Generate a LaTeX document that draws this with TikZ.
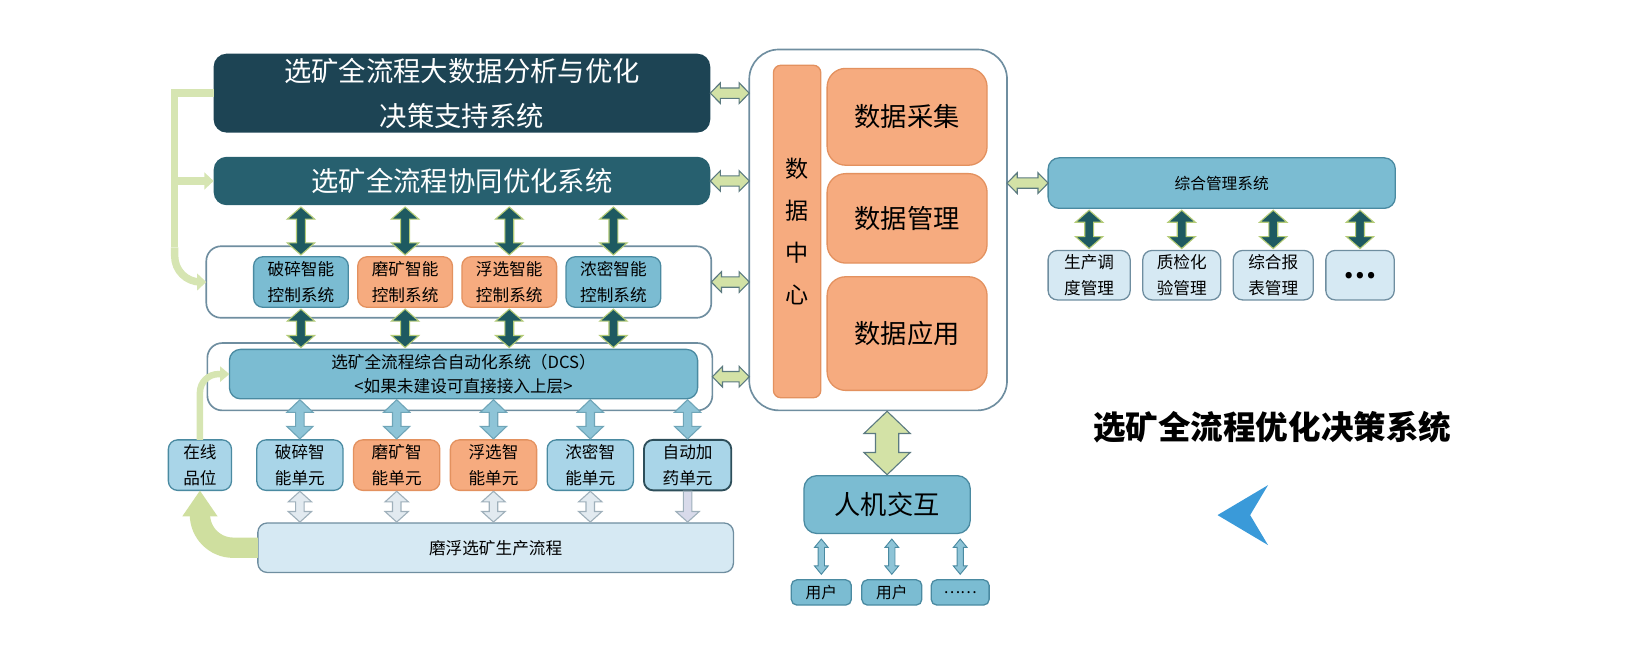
\documentclass[tikz,border=0pt]{standalone}
\usepackage{fontspec}
\setmainfont{Noto Sans CJK SC}
\usetikzlibrary{calc, arrows.meta, positioning}

\definecolor{deepC}{HTML}{1D4454}
\definecolor{tealC}{HTML}{27606F}
\definecolor{blueC}{HTML}{7BBCD2}
\definecolor{blueD}{HTML}{4A8AA1}
\definecolor{orangeC}{HTML}{F6AB7F}
\definecolor{orangeD}{HTML}{E3915F}
\definecolor{paleC}{HTML}{A9D5E8}
\definecolor{lightC}{HTML}{D6E9F3}
\definecolor{frameC}{HTML}{6F8EA0}
\definecolor{inkD}{HTML}{2D4E5A}
\definecolor{greenC}{HTML}{D3E2A6}
\definecolor{greenL}{HTML}{D6E5B2}
\definecolor{greenT}{HTML}{CFDF9F}
\definecolor{greenE}{HTML}{5B7A80}
\definecolor{arrowD}{HTML}{1E5A61}
\definecolor{arrowE}{HTML}{B5CC78}
\definecolor{skyA}{HTML}{8EC4D7}
\definecolor{skyE}{HTML}{6FA5B8}
\definecolor{greyA}{HTML}{E2EAF0}
\definecolor{greyE}{HTML}{9FB0BB}
\definecolor{lilacA}{HTML}{D8DAEA}
\definecolor{chevC}{HTML}{3A9AD9}

\newcommand{\setfs}[2]{\fontsize{#1}{#2}\selectfont}

% block arrow with two heads: style, from, to, gap, half shaft, half head, head length
\newcommand{\fatarrow}[7]{%
  \coordinate (fa1) at ($(#2)!#4!(#3)$);
  \coordinate (fa2) at ($(#3)!#4!(#2)$);
  \path[#1] (fa1) -- ($(fa1)!#7!(fa2)!#6!90:(fa2)$) -- ($(fa1)!#7!(fa2)!#5!90:(fa2)$)
    -- ($(fa2)!#7!(fa1)!#5!-90:(fa1)$) -- ($(fa2)!#7!(fa1)!#6!-90:(fa1)$) -- (fa2)
    -- ($(fa2)!#7!(fa1)!#6!90:(fa1)$) -- ($(fa2)!#7!(fa1)!#5!90:(fa1)$)
    -- ($(fa1)!#7!(fa2)!#5!-90:(fa2)$) -- ($(fa1)!#7!(fa2)!#6!-90:(fa2)$) -- cycle;}
% same, one head only
\newcommand{\fatonearrow}[7]{%
  \coordinate (fa1) at ($(#2)!#4!(#3)$);
  \coordinate (fa2) at ($(#3)!#4!(#2)$);
  \path[#1] ($(fa1)!#5!90:(fa2)$) -- ($(fa2)!#7!(fa1)!#5!-90:(fa1)$)
    -- ($(fa2)!#7!(fa1)!#6!-90:(fa1)$) -- (fa2) -- ($(fa2)!#7!(fa1)!#6!90:(fa1)$)
    -- ($(fa2)!#7!(fa1)!#5!90:(fa1)$) -- ($(fa1)!#5!-90:(fa2)$) -- cycle;}

\begin{document}
\begin{tikzpicture}[
        x=0.02cm, y=-0.02cm,
        frame/.style={draw=frameC, fill=white, line width=0.9pt, rounded corners=8pt, inner sep=0pt, outer sep=0pt},
        deep/.style={fill=#1, rounded corners=7pt, text=white, align=center, inner sep=0pt, outer sep=0pt, font=\setfs{14.8}{24.5}},
        cell/.style={draw=#1, line width=0.7pt, rounded corners=5pt, align=center, inner sep=0pt, outer sep=0pt},
        bluecell/.style={cell=blueD, fill=blueC},
        orangecell/.style={cell=orangeD, fill=orangeC},
        palecell/.style={cell=blueD, fill=paleC},
        lightcell/.style={cell=frameC, fill=lightC},
        small/.style={font=\setfs{9}{13.7}},
        darkarr/.style={fill=arrowD, draw=arrowE, line width=0.6pt},
        greenarr/.style={fill=greenC, draw=greenE, line width=0.6pt},
        skyarr/.style={fill=skyA, draw=skyE, line width=0.6pt},
        greyarr/.style={fill=greyA, draw=greyE, line width=0.6pt},
        lilacarr/.style={fill=lilacA, draw=greyE, line width=0.6pt},
        userarr/.style={fill=skyA, draw=blueD, line width=0.5pt},
        feed/.style={draw=greenL, line width=4pt}
    ]
        \useasboundingbox (0,0) rectangle (1568,622);

        % left stack
        \node[deep=deepC, minimum width=9.44cm, minimum height=1.5cm] (big) at (439,88.5) {选矿全流程大数据分析与优化\\决策支持系统};
        \node[deep=tealC, minimum width=9.44cm, minimum height=0.92cm] (sync) at (439,172) {选矿全流程协同优化系统};
        \node[frame, minimum width=9.6cm, minimum height=1.36cm] (panel) at (436,268) {};
        \node[bluecell, small, minimum width=1.8cm, minimum height=0.96cm] (ctrl1) at (286,268) {破碎智能\\控制系统};
        \node[orangecell, small, minimum width=1.8cm, minimum height=0.96cm, right=0.18cm of ctrl1] (ctrl2) {磨矿智能\\控制系统};
        \node[orangecell, small, minimum width=1.8cm, minimum height=0.96cm, right=0.18cm of ctrl2] (ctrl3) {浮选智能\\控制系统};
        \node[bluecell, small, minimum width=1.8cm, minimum height=0.96cm, right=0.18cm of ctrl3] (ctrl4) {浓密智能\\控制系统};
        \node[frame, minimum width=9.6cm, minimum height=1.28cm] (dcsf) at (437,358) {};
        \node[bluecell, rounded corners=6pt, font=\setfs{9}{12.5}, minimum width=8.9cm, minimum height=0.94cm] (dcs) at (440.5,355.5) {选矿全流程综合自动化系统（DCS）\\<如果未建设可直接接入上层>};
        \node[palecell, small, minimum width=1.2cm, minimum height=0.96cm] (online) at (190,442) {在线\\品位};
        \node[palecell, small, minimum width=1.64cm, minimum height=0.96cm] (unit1) at (285,442) {破碎智\\能单元};
        \node[orangecell, small, minimum width=1.64cm, minimum height=0.96cm, right=0.2cm of unit1] (unit2) {磨矿智\\能单元};
        \node[orangecell, small, minimum width=1.64cm, minimum height=0.96cm, right=0.2cm of unit2] (unit3) {浮选智\\能单元};
        \node[palecell, small, minimum width=1.64cm, minimum height=0.96cm, right=0.2cm of unit3] (unit4) {浓密智\\能单元};
        \node[palecell, small, draw=inkD, line width=1pt, minimum width=1.66cm, minimum height=0.96cm, right=0.2cm of unit4] (unit5) {自动加\\药单元};
        \node[lightcell, font=\setfs{9}{12}, minimum width=9.04cm, minimum height=0.94cm] (prod) at (471,520.5) {磨浮选矿生产流程};

        % data centre
        \node[frame, rounded corners=16pt, minimum width=4.9cm, minimum height=6.86cm] (dc) at (834.5,218.5) {};
        \node[orangecell, rounded corners=4pt, font=\setfs{12.5}{22.8}, minimum width=0.9cm, minimum height=6.32cm] (dcbar) at (757.5,220) {数\\据\\中\\心};
        \node[orangecell, rounded corners=10pt, font=\setfs{14.2}{18}, minimum width=3.04cm, minimum height=1.84cm] (collect) at (862,111) {数据采集};
        \node[orangecell, rounded corners=10pt, font=\setfs{14.2}{18}, minimum width=3.04cm, minimum height=1.7cm] (manage) at (862,207.5) {数据管理};
        \node[orangecell, rounded corners=10pt, font=\setfs{14.2}{18}, minimum width=3.04cm, minimum height=2.16cm] (apply) at (862,317) {数据应用};
        \node[bluecell, rounded corners=7pt, font=\setfs{14.2}{18}, minimum width=3.16cm, minimum height=1.1cm] (hmi) at (843,479.5) {人机交互};
        \node[bluecell, rounded corners=3pt, font=\setfs{8.5}{10}, minimum width=1.14cm, minimum height=0.48cm] (user1) at (780.5,563) {用户};
        \node[bluecell, rounded corners=3pt, font=\setfs{8.5}{10}, minimum width=1.14cm, minimum height=0.48cm, right=0.2cm of user1] (user2) {用户};
        \node[bluecell, rounded corners=3pt, font=\setfs{8.5}{10}, minimum width=1.1cm, minimum height=0.48cm, right=0.18cm of user2] (user3) {……};

        % management side
        \node[bluecell, rounded corners=6pt, font=\setfs{8.5}{10}, minimum width=6.6cm, minimum height=0.96cm] (mgmt) at (1161,174) {综合管理系统};
        \node[lightcell, small, minimum width=1.56cm, minimum height=0.94cm] (sched) at (1035,261.5) {生产调\\度管理};
        \node[lightcell, small, minimum width=1.48cm, minimum height=0.94cm, right=0.24cm of sched] (qc) {质检化\\验管理};
        \node[lightcell, small, minimum width=1.52cm, minimum height=0.94cm, right=0.24cm of qc] (report) {综合报\\表管理};
        \node[lightcell, font=\setfs{16}{16}\bfseries, minimum width=1.3cm, minimum height=0.94cm, right=0.24cm of report] (more) {…};

        \node[font=\setfs{17.6}{20}\bfseries] (title) at (1209,406) {选矿全流程优化决策系统};
        \fill[chevC] (1205,461) -- (1157,489.5) -- (1205,518) -- (1188,489.5) -- cycle;

        % feedback lines
        \coordinate (feedtop) at (166,88.5);
        \coordinate (feedbot) at (166,235);
        \draw[feed] (big.west) -- (feedtop) -- (feedbot);
        \draw[feed, rounded corners=14pt, -{Triangle[width=9pt,length=5pt]}] (feedbot) |- (panel.west);
        \draw[feed, -{Triangle[width=9pt,length=5pt]}] (feedtop |- sync.west) -- (sync.west);
        \draw[feed, line width=3.5pt, rounded corners=10pt, -{Triangle[width=8pt,length=5pt]}] (online.north) |- (dcs.west);
        \draw[draw=greenT, line width=11pt, rounded corners=18pt, -{Triangle[width=18pt,length=14pt]}] (prod.west) -| (online.south);

        % block arrows, left
        \fatarrow{darkarr}{sync.south -| ctrl1}{ctrl1.north}{1pt}{2.4pt}{7.4pt}{6.5pt}
        \fatarrow{darkarr}{sync.south -| ctrl2}{ctrl2.north}{1pt}{2.4pt}{7.4pt}{6.5pt}
        \fatarrow{darkarr}{sync.south -| ctrl3}{ctrl3.north}{1pt}{2.4pt}{7.4pt}{6.5pt}
        \fatarrow{darkarr}{sync.south -| ctrl4}{ctrl4.north}{1pt}{2.4pt}{7.4pt}{6.5pt}
        \fatarrow{darkarr}{ctrl1.south}{dcs.north -| ctrl1}{1pt}{2.4pt}{7.4pt}{6.5pt}
        \fatarrow{darkarr}{ctrl2.south}{dcs.north -| ctrl2}{1pt}{2.4pt}{7.4pt}{6.5pt}
        \fatarrow{darkarr}{ctrl3.south}{dcs.north -| ctrl3}{1pt}{2.4pt}{7.4pt}{6.5pt}
        \fatarrow{darkarr}{ctrl4.south}{dcs.north -| ctrl4}{1pt}{2.4pt}{7.4pt}{6.5pt}
        \fatarrow{skyarr}{dcs.south -| unit1}{unit1.north}{0.5pt}{2.3pt}{7.1pt}{6.8pt}
        \fatarrow{skyarr}{dcs.south -| unit2}{unit2.north}{0.5pt}{2.3pt}{7.1pt}{6.8pt}
        \fatarrow{skyarr}{dcs.south -| unit3}{unit3.north}{0.5pt}{2.3pt}{7.1pt}{6.8pt}
        \fatarrow{skyarr}{dcs.south -| unit4}{unit4.north}{0.5pt}{2.3pt}{7.1pt}{6.8pt}
        \fatarrow{skyarr}{dcs.south -| unit5}{unit5.north}{0.5pt}{2.3pt}{7.1pt}{6.8pt}
        \fatarrow{greyarr}{unit1.south}{prod.north -| unit1}{0.5pt}{2.3pt}{6.3pt}{5.7pt}
        \fatarrow{greyarr}{unit2.south}{prod.north -| unit2}{0.5pt}{2.3pt}{6.3pt}{5.7pt}
        \fatarrow{greyarr}{unit3.south}{prod.north -| unit3}{0.5pt}{2.3pt}{6.3pt}{5.7pt}
        \fatarrow{greyarr}{unit4.south}{prod.north -| unit4}{0.5pt}{2.3pt}{6.3pt}{5.7pt}
        \fatonearrow{lilacarr}{unit5.south}{prod.north -| unit5}{0.5pt}{2.3pt}{6.3pt}{5.7pt}

        % links to the data centre
        \fatarrow{greenarr}{big.east}{dc.west |- big.east}{0pt}{2.8pt}{5.6pt}{5.5pt}
        \fatarrow{greenarr}{sync.east}{dc.west |- sync.east}{0pt}{2.8pt}{5.6pt}{5.5pt}
        \fatarrow{greenarr}{panel.east}{dc.west |- panel.east}{0pt}{2.8pt}{5.6pt}{5.5pt}
        \fatarrow{greenarr}{dcsf.east}{dc.west |- dcsf.east}{0pt}{2.8pt}{5.6pt}{5.5pt}
        \fatarrow{greenarr}{dc.east |- mgmt.west}{mgmt.west}{0pt}{2.8pt}{5.6pt}{5.5pt}
        \fatarrow{greenarr}{dc.south -| hmi.north}{hmi.north}{0.5pt}{6.3pt}{12.5pt}{12pt}
        \fatarrow{userarr}{hmi.south -| user1}{user1.north}{3pt}{1.7pt}{3.7pt}{4.5pt}
        \fatarrow{userarr}{hmi.south -| user2}{user2.north}{3pt}{1.7pt}{3.7pt}{4.5pt}
        \fatarrow{userarr}{hmi.south -| user3}{user3.north}{3pt}{1.7pt}{3.7pt}{4.5pt}

        % management links
        \fatarrow{darkarr}{mgmt.south -| sched}{sched.north}{1pt}{2.4pt}{7.4pt}{6.5pt}
        \fatarrow{darkarr}{mgmt.south -| qc}{qc.north}{1pt}{2.4pt}{7.4pt}{6.5pt}
        \fatarrow{darkarr}{mgmt.south -| report}{report.north}{1pt}{2.4pt}{7.4pt}{6.5pt}
        \fatarrow{darkarr}{mgmt.south -| more}{more.north}{1pt}{2.4pt}{7.4pt}{6.5pt}
    \end{tikzpicture}
\end{document}
